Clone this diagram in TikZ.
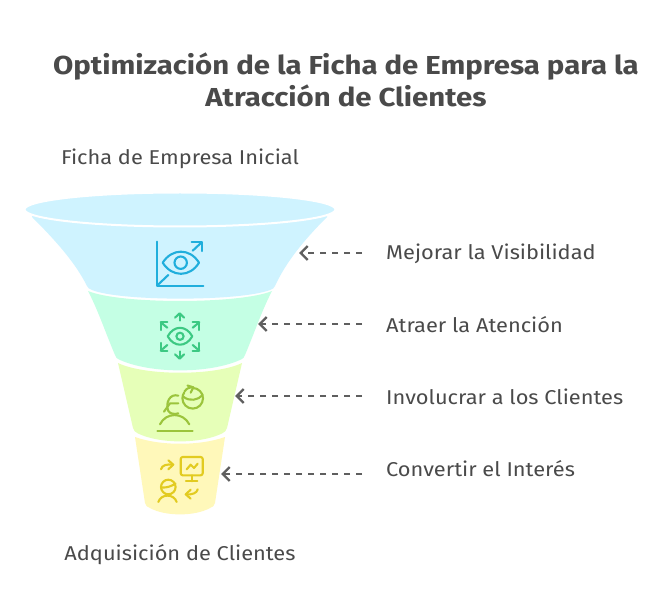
\documentclass[tikz,border=0pt]{standalone}
\usepackage{fontspec}
\usetikzlibrary{arrows.meta}
\setmainfont[FakeStretch=1.09]{Fira Sans}
\newfontfamily\titlefont[FakeStretch=1.13]{Fira Sans}
\begin{document}
\begin{tikzpicture}[x=1pt,y=-1pt,
 lbl/.style={anchor=base west,inner sep=0,text=ink,font=\fontsize{20}{20}\selectfont},
 capt/.style={anchor=center,inner sep=0,text=ink,font=\fontsize{20}{20}\selectfont},
 ttl/.style={anchor=center,inner sep=0,text=ink,font=\titlefont\bfseries\fontsize{26}{26}\selectfont},
 conn/.style={draw=arrowc,line width=2pt,dash pattern=on 6.5pt off 5.5pt,-{Straight Barb[length=7pt,width=14pt,line width=2.4pt]}},
 ico/.style={line width=2.1pt,line cap=round,line join=round},
]
\definecolor{ink}{HTML}{4A4A4A}
\definecolor{arrowc}{HTML}{5F5F5F}
\definecolor{bandA}{HTML}{CFF3FF}
\definecolor{bandB}{HTML}{C4FFE4}
\definecolor{bandC}{HTML}{E6FFB8}
\definecolor{bandD}{HTML}{FFF8BA}
\definecolor{icoA}{HTML}{20AEDC}
\definecolor{icoB}{HTML}{3CC983}
\definecolor{icoC}{HTML}{9BC43C}
\definecolor{icoD}{HTML}{E2CB20}
\path[use as bounding box] (0,0) rectangle (672,612);
\fill[white] (0,0) rectangle (672,612);
% title and captions
\node[ttl] (t1) at (346,67) {Optimización de la Ficha de Empresa para la};
\node[ttl] (t2) at (346,96) {Atracción de Clientes};
\node[capt] (top) at (180,159) {Ficha de Empresa Inicial};
\node[capt] (bot) at (180,555) {Adquisición de Clientes};
% funnel bands
\fill[bandD] (135,437) .. controls (160,446) and (200,446) .. (225,437)
  -- (215,503) .. controls (214,506) and (213,507) .. (210,508) .. controls (195,516.5) and (165,516.5) .. (150,508) .. controls (147,507) and (146,506) .. (145,503) -- cycle;
\fill[bandC] (118,363) .. controls (145,376) and (215,376) .. (242,363)
  -- (227,428) .. controls (226,431) and (225,432) .. (222,433.5) .. controls (200,444) and (160,444) .. (138,433.5) .. controls (135,432) and (134,431) .. (133,428) -- cycle;
\fill[bandB] (88,291) .. controls (120,304.3) and (240,304.3) .. (272,291)
  .. controls (262,310) and (254,334) .. (245,355) .. controls (244,358) and (243,358.5) .. (241,359.5) .. controls (210,374) and (150,374) .. (119,359.5) .. controls (117,358.5) and (116,358) .. (115,355) .. controls (106,334) and (98,310) .. (88,291) -- cycle;
\fill[bandA] (32,210) -- (327,210) -- (327,217)
  .. controls (304,240) and (286,262) .. (275,286) .. controls (274,288) and (273,289) .. (270,290) .. controls (240,301.5) and (120,301.5) .. (92,290) .. controls (89,289) and (88,288) .. (87,286) .. controls (75,262) and (55,240) .. (32,217) -- cycle;
\filldraw[fill=bandA,draw=white,line width=2pt] (180,209.5) ellipse [x radius=155.5,y radius=17];
% labels
\node[lbl] (l1) at (386,260) {Mejorar la Visibilidad};
\node[lbl] (l2) at (386,332) {Atraer la Atención};
\node[lbl] (l3) at (386,404) {Involucrar a los Clientes};
\node[lbl] (l4) at (386,476) {Convertir el Interés};
% connectors
\coordinate (s1) at (362,253); \coordinate (e1) at (299,253);
\coordinate (s2) at (362,324); \coordinate (e2) at (258,324);
\coordinate (s3) at (362,396); \coordinate (e3) at (235,396);
\coordinate (s4) at (362,474); \coordinate (e4) at (221,474);
\draw[conn] (s1) -- (e1);
\draw[conn] (s2) -- (e2);
\draw[conn] (s3) -- (e3);
\draw[conn] (s4) -- (e4);
% icon 1
\begin{scope}[ico,draw=icoA]
\draw (156.7,241.7) -- (156.7,286) -- (203.3,286);
\draw (157.7,285) -- (168.3,275);
\draw (192.7,250.7) -- (201.7,242.3);
\draw (191.7,242.3) -- (201.7,242.3) -- (201.7,251);
\draw (162.7,262.7) .. controls (172,248) and (190,248) .. (199,262.7) .. controls (190,277.5) and (172,277.5) .. (162.7,262.7) -- cycle;
\draw (180.7,262.7) circle [radius=6.2];
\end{scope}
% icon 2
\begin{scope}[ico,draw=icoB]
\draw (167.7,336.3) .. controls (174,325) and (186,325) .. (192.3,336.3) .. controls (186,347.5) and (174,347.5) .. (167.7,336.3) -- cycle;
\draw (180,336.3) circle [radius=3.6];
\draw (179.6,314) -- (179.6,320.7); \draw (175,317.7) -- (179.6,313.3) -- (184.2,317.7);
\draw (179.6,351.3) -- (179.6,358); \draw (175,354.3) -- (179.6,358.7) -- (184.2,354.3);
\draw (167.3,322.3) -- (160.7,322.3) -- (160.7,330); \draw (160.7,322.3) -- (167.3,327.7);
\draw (192.7,322.3) -- (199.3,322.3) -- (199.3,330); \draw (199.3,322.3) -- (192.7,327.7);
\draw (160.7,343) -- (160.7,350.7) -- (167.3,350.7); \draw (160.7,350.7) -- (167.3,345);
\draw (199.3,343) -- (199.3,350.7) -- (192.7,350.7); \draw (199.3,350.7) -- (192.7,345);
\end{scope}
% icon 3
\begin{scope}[ico,draw=icoC]
\draw (157.3,430.7) -- (192.7,430.7);
\draw (160,424.3) .. controls (166,412) and (183,412) .. (189.3,424.3);
\draw (192.7,388) arc [start angle=-90,end angle=215,radius=10.3];
\draw (184.5,391.5) .. controls (186.5,388.5) and (189,387.3) .. (193,387.3);
\draw (187.5,385.5) -- (193.3,387.3) -- (190.7,392.7);
\draw (183.3,396.7) .. controls (190,402) and (198,400) .. (202.7,395);
\draw (178.3,395.7) .. controls (170,393) and (165,403) .. (168.3,411) .. controls (170,414) and (175,414.5) .. (178.3,413.3);
\draw (164,411.7) -- (170,403.3) -- (178.3,403.3);
\end{scope}
% icon 4
\begin{scope}[ico,draw=icoD]
\draw[rounded corners=2pt] (180.7,457) rectangle (202.7,475.3);
\draw (191.7,475.3) -- (191.7,481.3); \draw (186,481.3) -- (197.3,481.3);
\draw (186.7,469.3) -- (190.7,464.7) -- (194,468) -- (197.7,463.7);
\draw (161,469.3) .. controls (162,465) and (167,464) .. (172.7,464.7);
\draw (168.3,460.3) -- (173.3,464.7) -- (168.3,469.3);
\draw (168.3,487) circle [radius=7.3];
\draw (161.2,487.5) .. controls (167,488) and (172,486) .. (175.5,483.5);
\draw (158.3,502) .. controls (161,493.5) and (174,493.5) .. (176.7,502);
\draw (197.7,489.3) .. controls (197,493) and (192,495) .. (186,494.3);
\draw (190.7,489.7) -- (185.7,494.3) -- (190.7,498.7);
\end{scope}
\end{tikzpicture}
\end{document}
